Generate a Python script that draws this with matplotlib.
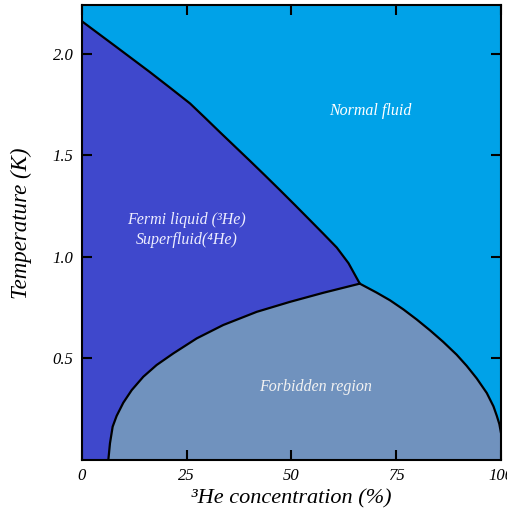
import matplotlib
matplotlib.use('Agg')
import matplotlib.pyplot as plt

# phase boundaries: (3He %, T in K)
# lambda line, from pure 4He down to the tricritical point
lambda_x = [0.0, 8.0, 16.2, 21.0, 25.8, 29.4, 32.9, 36.5, 40.1, 43.7, 47.3,
            50.8, 54.4, 57.6, 60.8, 63.6, 66.3]
lambda_t = [2.16, 2.037, 1.91, 1.833, 1.755, 1.684, 1.614, 1.543, 1.472,
            1.400, 1.327, 1.255, 1.180, 1.113, 1.045, 0.968, 0.867]

# dilute side of the phase separation line
dilute_x = [6.3, 6.68, 7.32, 8.27, 9.86, 11.86, 14.63, 17.82, 21.79, 27.37,
            33.7, 41.7, 49.6, 57.6, 66.3]
dilute_t = [0.0, 0.08, 0.162, 0.215, 0.28, 0.342, 0.408, 0.466, 0.523, 0.597,
            0.663, 0.728, 0.777, 0.822, 0.867]

# concentrated side
conc_x = [66.3, 70.3, 73.5, 76.7, 79.9, 83.1, 86.2, 89.4, 91.8, 94.2, 96.6,
          98.2, 99.0, 99.6, 100.0]
conc_t = [0.867, 0.823, 0.785, 0.740, 0.690, 0.636, 0.580, 0.517, 0.462,
          0.400, 0.328, 0.262, 0.215, 0.175, 0.13]

x_ticks = [0, 25, 50, 75, 100]
y_ticks = [0.5, 1.0, 1.5, 2.0]

c_normal = '#00a2e8'
c_super = '#3f48cc'
c_forbid = '#7092be'

plt.rcParams['font.family'] = ['Liberation Serif', 'DejaVu Serif']
plt.rcParams['font.style'] = 'italic'

fig = plt.figure(figsize=(5.07, 5.12), dpi=100)
ax = fig.add_axes([0.1617, 0.1025, 0.8265, 0.8875])
ax.set_facecolor(c_normal)

# superfluid / fermi liquid region
sx = [0.0] + lambda_x + dilute_x[::-1] + [0.0]
st = [0.0] + lambda_t + dilute_t[::-1] + [0.0]
ax.fill(sx, st, color=c_super, lw=0)

# forbidden region
fx = dilute_x + conc_x[1:] + [100.0]
ft = dilute_t + conc_t[1:] + [0.0]
ax.fill(fx, ft, color=c_forbid, lw=0)

for xs, ts in [(lambda_x, lambda_t), (dilute_x, dilute_t), (conc_x, conc_t)]:
    ax.plot(xs, ts, color='black', lw=1.6, solid_joinstyle='round',
            solid_capstyle='round')

ax.text(68.7, 1.72, 'Normal fluid', color='white', fontsize=11.5,
        ha='center', va='center')
ax.text(25, 1.18, 'Fermi liquid (\u00b3He)', color='#eeeeff', fontsize=11.5,
        ha='center', va='center')
ax.text(25, 1.08, 'Superfluid(\u2074He)', color='#eeeeff', fontsize=11.5,
        ha='center', va='center')
ax.text(55.8, 0.357, 'Forbidden region', color='#f2f2f2', fontsize=11.5,
        ha='center', va='center')

ax.set_xlim(0, 100)
ax.set_ylim(0, 2.24)
ax.set_xticks(x_ticks)
ax.set_yticks(y_ticks)
ax.set_xticklabels([str(v) for v in x_ticks])
ax.set_yticklabels(['%.1f' % v for v in y_ticks])
ax.tick_params(direction='in', length=7, width=1.5, labelsize=12,
               top=True, right=True, pad=6)
for s in ax.spines.values():
    s.set_linewidth(1.5)

ax.set_xlabel('\u00b3He concentration (%)', fontsize=16, labelpad=4)
ax.set_ylabel('Temperature (K)', fontsize=16.5)
ax.yaxis.set_label_coords(-0.12, 0.52)

fig.savefig('out.png', dpi=100)
